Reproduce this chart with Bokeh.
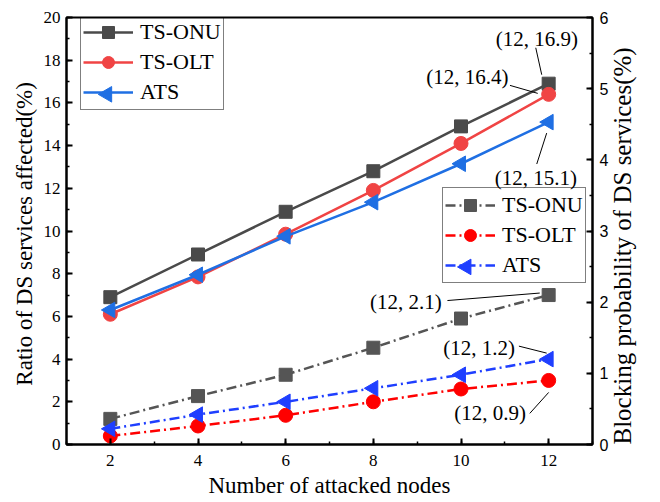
import numpy as np
from bokeh.plotting import figure
from bokeh.models import Range1d, LinearAxis, SingleIntervalTicker, Legend, LegendItem
from bokeh.core.properties import value
from bokeh.embed import file_html
from bokeh.resources import INLINE

# ---------------- data ----------------
nodes = [2, 4, 6, 8, 10, 12]
ratio_ts_onu = [6.9, 8.9, 10.9, 12.8, 14.9, 16.9]
ratio_ts_olt = [6.1, 7.85, 9.85, 11.9, 14.1, 16.4]
ratio_ats = [6.3, 7.95, 9.75, 11.35, 13.15, 15.1]
block_ts_onu = [0.36, 0.68, 0.98, 1.36, 1.77, 2.1]
block_ts_olt = [0.12, 0.26, 0.41, 0.6, 0.78, 0.9]
block_ats = [0.22, 0.42, 0.6, 0.79, 0.98, 1.2]
series_names = ["TS-ONU", "TS-OLT", "ATS"]

# ---------------- layout ----------------
W, H = 652, 500
FL, FR, FT, FB = 66, 56, 17, 55
fw, fh = W - FL - FR, H - FT - FB
XMIN, XMAX, YLMAX, YRMAX = 1, 13, 20, 6
sx = fw / (XMAX - XMIN)
sy = {"default": fh / YLMAX, "r": fh / YRMAX}

SERIF = value("Liberation Serif")

p = figure(width=W, height=H, x_range=Range1d(XMIN, XMAX), y_range=Range1d(0, YLMAX),
           output_backend="svg", toolbar_location=None,
           min_border_left=FL, min_border_right=FR, min_border_top=FT, min_border_bottom=FB)
p.extra_y_ranges = {"r": Range1d(0, YRMAX)}
p.xgrid.visible = False
p.ygrid.visible = False
p.outline_line_color = "black"
p.outline_line_width = 2
p.background_fill_color = "white"
p.border_fill_color = "white"

p.xaxis.ticker = SingleIntervalTicker(interval=2, num_minor_ticks=2)
p.yaxis.ticker = SingleIntervalTicker(interval=2, num_minor_ticks=2)
p.xaxis.axis_label = "Number of attacked nodes"
p.yaxis.axis_label = "Ratio of  DS services affected(%)"

raxis = LinearAxis(y_range_name="r", ticker=SingleIntervalTicker(interval=1, num_minor_ticks=2),
                   axis_label="Blocking probability of DS services(%)")
try:
    raxis.axis_label_orientation = np.pi / 2   # read bottom-to-top
    raxis.axis_label_align = "start"
except Exception:
    pass
p.add_layout(raxis, "right")

for ax in [p.xaxis[0], p.yaxis[0], raxis]:
    ax.axis_line_color = "black"
    ax.axis_line_width = 2
    ax.major_tick_in = 6
    ax.major_tick_out = 0
    ax.minor_tick_in = 3
    ax.minor_tick_out = 0
    ax.major_tick_line_width = 2
    ax.minor_tick_line_width = 1.5
    ax.major_tick_line_color = "black"
    ax.minor_tick_line_color = "black"
    ax.major_label_text_color = "black"
    ax.axis_label_text_color = "black"
    ax.axis_label_text_font = "Liberation Serif"
    ax.axis_label_text_font_style = "normal"
    ax.axis_label_text_font_size = "23px"
    ax.major_label_text_font = "Liberation Serif"
    ax.major_label_text_font_size = "17px"

p.xaxis.major_label_standoff = 10
p.xaxis.axis_label_standoff = 4
p.yaxis.major_label_standoff = 6
p.yaxis.axis_label_standoff = 4
raxis.major_label_text_font = "Liberation Sans"
raxis.major_label_text_font_size = "16px"
raxis.major_label_standoff = 7
raxis.axis_label_standoff = 11
raxis.axis_label_text_font_size = "25px"

# ---------------- series ----------------
solid_colors = ["#4a4a4a", "#f04444", "#1f6fe3"]
dash_colors = ["#555555", "#ff0000", "#1f3fff"]
markers = ["square", "circle", None]   # None -> left-pointing triangle
msizes = [13, 14, 0]
TRI_R = 9  # px, circumradius of the left-pointing triangle

def left_triangles(xs, ys, k):
    px = [[x - TRI_R / sx, x + 0.5 * TRI_R / sx, x + 0.5 * TRI_R / sx] for x in xs]
    py = [[y, y + 0.866 * TRI_R / k, y - 0.866 * TRI_R / k] for y in ys]
    return px, py

solid_sets = [ratio_ts_onu, ratio_ts_olt, ratio_ats]
dash_sets = [block_ts_onu, block_ts_olt, block_ats]

LEG_PAD, LEG_GW, LEG_GH, LEG_SP = 2, 50, 30, -3
leg_locs = [(14, 334), (376, 161)]
leg_ranges = ["default", "r"]

def legend_row_center(loc, i, n=3):
    lh = 2 * LEG_PAD + n * LEG_GH + (n - 1) * LEG_SP
    cy = loc[1] + lh - LEG_PAD - LEG_GH / 2 - i * (LEG_GH + LEG_SP)
    cx = loc[0] + LEG_PAD + LEG_GW / 2
    return cx, cy

all_items = [[], []]
for g, (sets, colors, dash) in enumerate([(solid_sets, solid_colors, "solid"),
                                           (dash_sets, dash_colors, "10 4 2 4")]):
    rn = leg_ranges[g]
    k = sy[rn]
    for i, ys in enumerate(sets):
        l = p.line(nodes, ys, line_color=colors[i], line_width=2.5, line_dash=dash, y_range_name=rn)
        rends = [l]
        if markers[i] is not None:
            s = p.scatter(nodes, ys, marker=markers[i], size=msizes[i],
                          fill_color=colors[i], line_color=colors[i], y_range_name=rn)
            rends.append(s)
        else:
            txs, tys = left_triangles(nodes, ys, k)
            p.patches(txs, tys, fill_color=colors[i], line_color=colors[i], y_range_name=rn)
            # legend key triangle (legend box is transparent so it shows through)
            cx, cy = legend_row_center(leg_locs[g], i)
            lxs, lys = left_triangles([XMIN + cx / sx], [cy / k], k)
            p.patches(lxs, lys, fill_color=colors[i], line_color=colors[i], y_range_name=rn)
        all_items[g].append(LegendItem(label=series_names[i], renderers=rends))

def make_legend(items, loc):
    lg = Legend(items=items, location=loc, orientation="vertical")
    lg.label_text_font = "Liberation Serif"
    lg.label_text_font_size = "22px"
    lg.label_text_color = "black"
    lg.glyph_width = LEG_GW
    lg.glyph_height = LEG_GH
    lg.label_height = 22
    lg.spacing = LEG_SP
    lg.padding = LEG_PAD
    lg.margin = 0
    lg.label_standoff = 7
    lg.border_line_color = "black"
    lg.border_line_width = 1
    lg.background_fill_alpha = 0
    return lg

p.add_layout(make_legend(all_items[0], leg_locs[0]), "center")
p.add_layout(make_legend(all_items[1], leg_locs[1]), "center")

# ---------------- annotations ----------------
ann_anchor_y = [ratio_ts_onu[-1], ratio_ts_olt[-1], ratio_ats[-1],
                block_ts_onu[-1], block_ats[-1], block_ts_olt[-1]]
ann_range = ["default", "default", "default", "r", "r", "r"]
ann_labels = ["(12, 16.9)", "(12, 16.4)", "(12, 15.1)", "(12, 2.1)", "(12, 1.2)", "(12, 0.9)"]
# pixel offsets from the anchor point (screen, y downward): text centre, leader start, leader end
ann_text_off = [(-12, -45), (-82, -17), (-13, 56), (-144, 7), (-70, -11), (-59, 33)]
ann_line_off = [((-13, -36), (-7, -9)), ((-39, -9), (-11, -1)), ((-12, 42), (-2, 11)),
                ((-102, 5.5), (-9, -2)), ((-30, -13), (-2, -6)), ((-19, 33), (0, 12))]

ax_x = nodes[-1]
for lab, ay, rn, toff, (l0, l1) in zip(ann_labels, ann_anchor_y, ann_range, ann_text_off, ann_line_off):
    k = sy[rn]
    tx = ax_x + toff[0] / sx
    ty = ay - toff[1] / k
    p.text(x=[tx], y=[ty], text=[lab], text_font=SERIF, text_font_size="21px",
           text_align="center", text_baseline="middle", text_color="black", y_range_name=rn)
    p.segment(x0=[ax_x + l0[0] / sx], y0=[ay - l0[1] / k], x1=[ax_x + l1[0] / sx], y1=[ay - l1[1] / k],
              line_color="black", line_width=1, y_range_name=rn)

open("out.html", "w").write(file_html(p, INLINE))
